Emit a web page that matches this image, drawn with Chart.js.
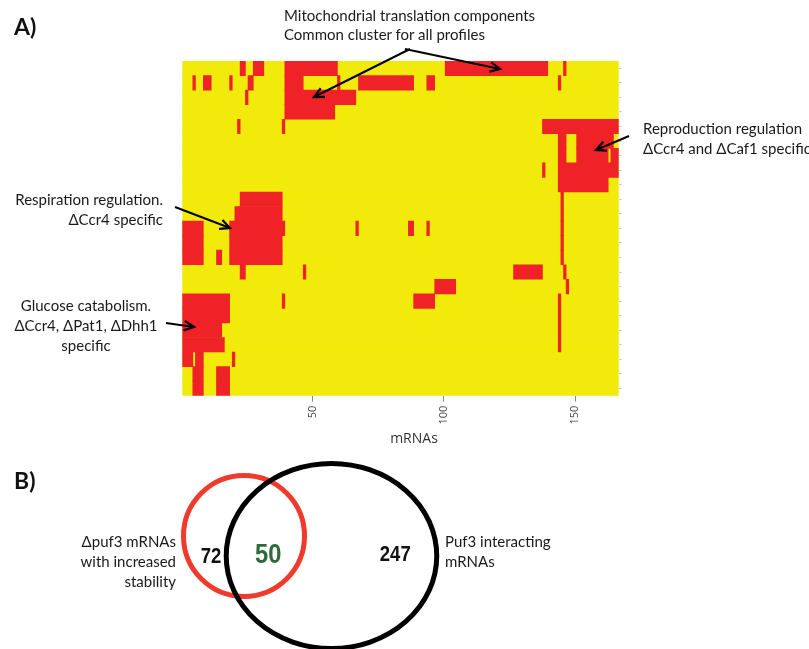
<!DOCTYPE html>
<html><head><meta charset="utf-8">
<script src="https://cdn.jsdelivr.net/npm/chart.js@4.4.0/dist/chart.umd.min.js"></script>
<style>
html,body{margin:0;padding:0;background:#fff;width:809px;height:649px;overflow:hidden;}
#wrap{position:relative;width:809px;height:649px;}
canvas{position:absolute;left:0;}
.t{position:absolute;font-family:Lato,'Open Sans',sans-serif;font-size:15px;line-height:20px;color:#1a1a1a;white-space:nowrap;}
.h{position:absolute;font-family:Lato,'Open Sans',sans-serif;font-weight:bold;font-size:23px;color:#111;}
svg{position:absolute;left:0;top:0;}
</style></head><body><div id="wrap">
<canvas id="heat" width="809" height="649" style="top:0;width:809px;height:649px"></canvas>
<canvas id="venn" width="809" height="199" style="top:450px;width:809px;height:199px"></canvas>
<svg id="arrows" width="809" height="649"></svg>
<div class="h" style="left:14px;top:12px">A)</div>
<div class="h" style="left:14px;top:466px">B)</div>
<div class="t" style="left:284px;top:6px;line-height:19px">Mitochondrial translation components<br>Common cluster for all profiles</div>
<div class="t" style="left:643px;top:118px">Reproduction regulation<br>ΔCcr4 and ΔCaf1 specific</div>
<div class="t" style="right:646px;top:189px;text-align:right">Respiration regulation.<br>ΔCcr4 specific</div>
<div class="t" style="left:4px;width:164px;top:295px;text-align:center">Glucose catabolism.<br>ΔCcr4, ΔPat1, ΔDhh1<br>specific</div>
<div class="t" style="left:390px;width:48px;top:428px;text-align:center;font-family:'Open Sans',sans-serif;font-size:14px;color:#333">mRNAs</div>
<div class="t" style="right:633px;top:531px;text-align:right">Δpuf3 mRNAs<br>with increased<br>stability</div>
<div class="t" style="left:445px;top:531px">Puf3 interacting<br>mRNAs</div>
</div>
<script>
// ---------- Heatmap data (A) ----------
const rowLabels = ['1','2','3','4','5','6','7','8','9','10','11','12','13','14','15','16','17','18','19','20','21','22','23'];
const nColumns = 166;
const xTicks = [50, 100, 150];
// red (1) runs per row, column ranges inclusive; everything else is yellow (0)
const redRuns = [
 [[23,24],[28,31],[40,59],[101,139],[146,146]],
 [[5,5],[9,11],[19,19],[26,27],[40,46],[60,60],[68,88],[94,96],[144,144]],
 [[25,25],[40,66]],
 [[40,58]],
 [[22,22],[39,39],[138,166]],
 [[144,146],[151,164]],
 [[144,146],[151,162],[164,166]],
 [[138,138],[144,166]],
 [[144,162]],
 [[23,38],[145,145]],
 [[21,38],[145,145]],
 [[1,8],[19,39],[67,67],[87,88],[94,94],[145,145]],
 [[1,8],[19,38],[145,145]],
 [[1,8],[14,15],[19,38],[145,145]],
 [[23,24],[47,47],[127,137],[146,146]],
 [[97,104],[147,147]],
 [[1,18],[39,39],[89,96],[144,144]],
 [[1,18],[144,144]],
 [[1,15],[144,144]],
 [[1,16],[144,144]],
 [[1,4],[6,8],[20,20]],
 [[5,8],[14,18]],
 [[5,8],[14,18]]
];
// ---------- Venn data (B) ----------
const vennSetLabels = ['Δpuf3 mRNAs with increased stability', 'Puf3 interacting mRNAs'];
const vennCounts = [72, 50, 247]; // only A, A∩B, only B

const YELLOW = '#F2EA0B', RED = '#EE2227';

const bgData = rowLabels.map(() => [0.5, nColumns + 0.5]);
const maxRuns = Math.max(...redRuns.map(r => r.length));
const datasets = [{data: bgData, backgroundColor: YELLOW, borderWidth: 0, grouped: false, barPercentage: 1, categoryPercentage: 1, order: 2}];
for (let k = 0; k < maxRuns; k++) {
  datasets.push({
    data: redRuns.map(r => r[k] ? [r[k][0] - 0.5, r[k][1] + 0.5] : null),
    backgroundColor: RED, borderWidth: 0, grouped: false, barPercentage: 1, categoryPercentage: 1, order: 1
  });
}

const YAXW = 10, XAXH = 40;
new Chart(document.getElementById('heat'), {
  type: 'bar',
  data: {labels: rowLabels, datasets},
  options: {
    indexAxis: 'y', responsive: false, animation: false, devicePixelRatio: 1,
    layout: {padding: {left: 182.3, top: 61, right: 809 - 618.7 - YAXW, bottom: 649 - 395.7 - XAXH}},
    plugins: {legend: {display: false}, tooltip: {enabled: false}},
    scales: {
      x: {
        type: 'linear', position: 'bottom', min: 0.5, max: nColumns + 0.5,
        afterBuildTicks: s => { s.ticks = xTicks.map(v => ({value: v})); },
        ticks: {minRotation: 90, maxRotation: 90, autoSkip: false, padding: 4, color: '#444', font: {family: "'Open Sans', sans-serif", size: 11}},
        grid: {drawOnChartArea: false, drawTicks: true, tickLength: 6, color: '#888'},
        border: {display: false},
        afterFit: s => { s.height = XAXH; }
      },
      y: {
        type: 'category', position: 'right', offset: true,
        grid: {drawOnChartArea: false, offset: false, drawTicks: true, tickLength: 3, color: '#ccc'},
        ticks: {display: false},
        border: {display: false},
        afterFit: s => { s.width = YAXW; }
      }
    }
  }
});

// Venn geometry (layout, in units of the small circle's radius)
const vennShapes = [
  {cx: 0, cy: 0, rx: 1, ry: 1, color: '#EF3B2C'},
  {cx: 1.446, cy: -0.33, rx: 1.74, ry: 1.53, color: '#000'}
];
const countPos = [{x: -0.545, y: -0.34}, {x: 0.4, y: -0.33}, {x: 2.5, y: -0.31}];
const countStyle = [
  {color: '#111', font: "bold 22px 'Liberation Sans', Arial, sans-serif", sx: 0.84},
  {color: '#2E6B3C', font: "bold 27px 'Liberation Sans', Arial, sans-serif", sx: 0.88},
  {color: '#111', font: "bold 22px 'Liberation Sans', Arial, sans-serif", sx: 0.84}
];
const vennPlugin = {
  id: 'vennDraw',
  afterDatasetsDraw(chart) {
    const {ctx, scales: {x, y}} = chart;
    vennShapes.forEach(s => {
      const cx = x.getPixelForValue(s.cx), cy = y.getPixelForValue(s.cy);
      const rx = Math.abs(x.getPixelForValue(s.cx + s.rx) - cx);
      const ry = Math.abs(y.getPixelForValue(s.cy + s.ry) - cy);
      ctx.save(); ctx.beginPath(); ctx.ellipse(cx, cy, rx, ry, 0, 0, Math.PI * 2);
      ctx.lineWidth = 5; ctx.strokeStyle = s.color; ctx.stroke(); ctx.restore();
    });
    const meta = chart.getDatasetMeta(0);
    meta.data.forEach((pt, i) => {
      const st = countStyle[i];
      ctx.save(); ctx.font = st.font; ctx.fillStyle = st.color;
      ctx.textAlign = 'center'; ctx.textBaseline = 'middle';
      ctx.translate(pt.x, pt.y); ctx.scale(st.sx, 1);
      ctx.fillText(String(vennCounts[i]), 0, 0); ctx.restore();
    });
  }
};
const unit = 60.5;
new Chart(document.getElementById('venn'), {
  type: 'scatter',
  data: {datasets: [{label: vennSetLabels.join(' / '), data: countPos, pointRadius: 0}]},
  options: {
    responsive: false, animation: false, devicePixelRatio: 1,
    layout: {padding: 0},
    plugins: {legend: {display: false}, tooltip: {enabled: false}},
    scales: {
      x: {type: 'linear', display: false, min: -244 / unit, max: (809 - 244) / unit},
      y: {type: 'linear', display: false, min: -(199 - 86) / unit, max: 86 / unit}
    }
  },
  plugins: [vennPlugin]
});

// annotation arrows
const arrows = [
  [410, 49, 314, 97], [405, 49, 500, 69], [629, 136, 596, 150], [175, 207, 230, 228], [166, 323, 194, 327]
];
const svg = document.getElementById('arrows');
let html = '';
arrows.forEach(([x1, y1, x2, y2]) => {
  const a = Math.atan2(y2 - y1, x2 - x1), L = 11, w = 0.45;
  const p1 = [x2 - L * Math.cos(a - w), y2 - L * Math.sin(a - w)];
  const p2 = [x2 - L * Math.cos(a + w), y2 - L * Math.sin(a + w)];
  html += `<line x1="${x1}" y1="${y1}" x2="${x2}" y2="${y2}" stroke="#000" stroke-width="2"/>`;
  html += `<polyline points="${p1[0]},${p1[1]} ${x2},${y2} ${p2[0]},${p2[1]}" fill="none" stroke="#000" stroke-width="2.2"/>`;
});
svg.innerHTML = html;
</script>
</body></html>
